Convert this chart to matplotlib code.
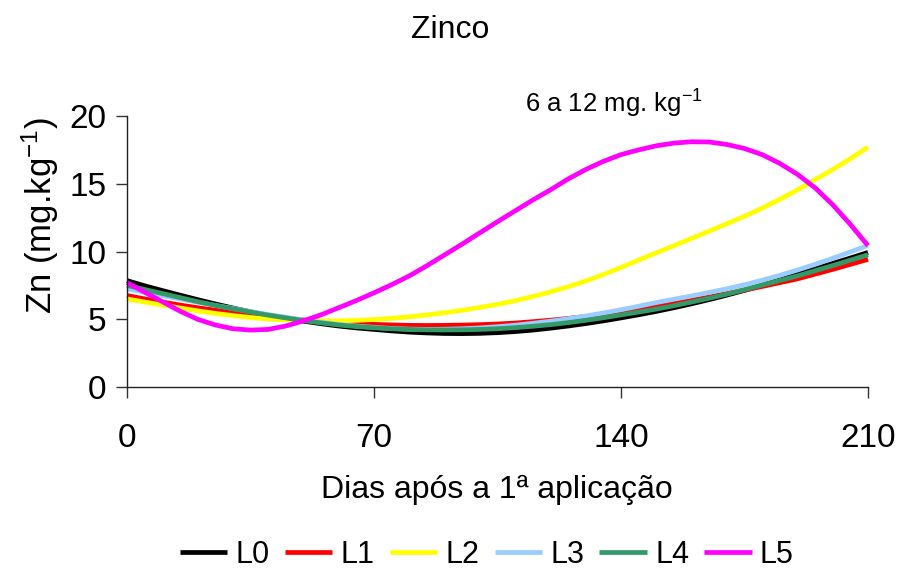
import matplotlib
matplotlib.use("Agg")
import matplotlib.pyplot as plt

plt.rcParams['font.family'] = ['Liberation Sans', 'DejaVu Sans']
plt.rcParams['mathtext.default'] = 'regular'

# Days after the first application (5-day sampling of the fitted curves)
dias = list(range(0, 211, 5))

# Zinc content (mg/kg) for each treatment
L0 = [7.85, 7.47, 7.12, 6.78, 6.45, 6.13, 5.83, 5.55, 5.30, 5.07, 4.86,
      4.67, 4.50, 4.36, 4.25, 4.14, 4.05, 3.99, 3.95, 3.94, 3.96, 4.01,
      4.09, 4.20, 4.34, 4.50, 4.68, 4.88, 5.10, 5.33, 5.58, 5.85, 6.14,
      6.45, 6.78, 7.13, 7.50, 7.90, 8.32, 8.72, 9.12, 9.52, 9.93]
L1 = [6.75, 6.50, 6.27, 6.05, 5.85, 5.67, 5.50, 5.34, 5.20, 5.07, 4.95,
      4.85, 4.76, 4.68, 4.62, 4.58, 4.55, 4.54, 4.55, 4.57, 4.60, 4.65,
      4.72, 4.82, 4.93, 5.06, 5.20, 5.36, 5.54, 5.74, 5.95, 6.17, 6.40,
      6.64, 6.89, 7.15, 7.42, 7.70, 7.98, 8.33, 8.68, 9.05, 9.42]
L2 = [6.50, 6.27, 6.05, 5.83, 5.62, 5.43, 5.27, 5.13, 5.02, 4.95, 4.90,
      4.88, 4.88, 4.92, 4.98, 5.07, 5.18, 5.32, 5.48, 5.66, 5.87, 6.10,
      6.37, 6.68, 7.02, 7.40, 7.82, 8.30, 8.82, 9.37, 9.90, 10.43, 10.97,
      11.50, 12.05, 12.60, 13.20, 13.85, 14.55, 15.30, 16.05, 16.85, 17.70]
L3 = [7.25, 7.00, 6.75, 6.50, 6.25, 6.02, 5.80, 5.57, 5.35, 5.15, 4.95,
      4.78, 4.62, 4.50, 4.40, 4.32, 4.27, 4.25, 4.26, 4.30, 4.36, 4.45,
      4.56, 4.70, 4.86, 5.04, 5.24, 5.46, 5.70, 5.96, 6.23, 6.48, 6.72,
      6.98, 7.25, 7.55, 7.88, 8.24, 8.63, 9.05, 9.50, 9.97, 10.45]
L4 = [7.50, 7.20, 6.90, 6.60, 6.30, 6.02, 5.77, 5.53, 5.30, 5.10, 4.90,
      4.73, 4.58, 4.46, 4.37, 4.30, 4.25, 4.22, 4.21, 4.22, 4.25, 4.30,
      4.38, 4.48, 4.60, 4.75, 4.92, 5.11, 5.32, 5.53, 5.75, 6.00, 6.27,
      6.55, 6.85, 7.18, 7.52, 7.86, 8.20, 8.58, 8.96, 9.36, 9.76]
L5 = [7.70, 7.00, 6.30, 5.60, 5.00, 4.58, 4.30, 4.20, 4.25, 4.50, 4.88,
      5.33, 5.85, 6.38, 6.95, 7.55, 8.20, 8.95, 9.75, 10.55, 11.38, 12.20,
      13.00, 13.80, 14.55, 15.35, 16.05, 16.65, 17.15, 17.50, 17.80, 18.00,
      18.10, 18.08, 17.90, 17.60, 17.15, 16.50, 15.70, 14.70, 13.45, 12.00, 10.43]

series_names = ["L0", "L1", "L2", "L3", "L4", "L5"]
series_values = [L0, L1, L2, L3, L4, L5]
series_colors = ["#000000", "#FF0000", "#FFFF00", "#99CCFF", "#339966", "#FF00FF"]

x_ticks = [0, 70, 140, 210]
y_ticks = [0, 5, 10, 15, 20]

fig = plt.figure(figsize=(9, 5.75), dpi=100)
ax = fig.add_axes([127 / 900, 1 - 387 / 575, 741 / 900, 271 / 575])

for name, vals, col in zip(series_names, series_values, series_colors):
    ax.plot(dias, vals, color=col, lw=3.4, label=name,
            solid_capstyle='butt', solid_joinstyle='round', clip_on=False)

ax.set_xlim(0, 210)
ax.set_ylim(0, 20)
ax.set_xticks(x_ticks)
ax.set_yticks(y_ticks)
ax.tick_params(axis='both', direction='out', length=7.7, width=1,
               labelsize=24, color='#333333')
ax.tick_params(axis='y', pad=7)
ax.tick_params(axis='x', pad=18)
for side in ('top', 'right'):
    ax.spines[side].set_visible(False)
for side in ('left', 'bottom'):
    ax.spines[side].set_color('#222222')
    ax.spines[side].set_linewidth(1)

fig.text(40 / 900, 1 - 216 / 575, "Zn (mg.kg$^{-1}$)", rotation=90,
         ha='center', va='center', fontsize=25)
fig.text(497 / 900, 1 - 490 / 575, "Dias após a 1ª aplicação",
         ha='center', va='center', fontsize=23)
fig.text(450 / 900, 1 - 30 / 575, "Zinco", ha='center', va='center', fontsize=23)
ax.text(138, 20.9, "6 a 12 mg. kg$^{-1}$", ha='center', va='center',
        fontsize=18.5, clip_on=False)

fig.legend(loc='center', bbox_to_anchor=(0.541, 1 - 555 / 575), ncol=6,
           frameon=False, fontsize=22, handlelength=1.55, handletextpad=0.27,
           columnspacing=0.5)

fig.savefig("out.png", dpi=100)
